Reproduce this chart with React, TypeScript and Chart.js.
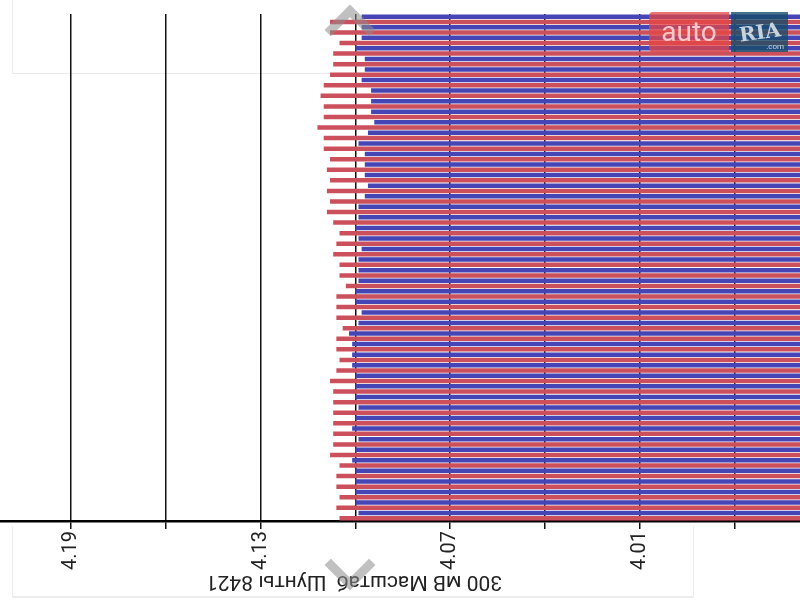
import React, { useEffect, useRef } from 'react';
import { Chart, registerables } from 'chart.js';

Chart.register(...registerables);

// Cell indices (categories), top to bottom
const cells = [
  '1', '2', '3', '4', '5', '6', '7', '8', '9', '10', '11', '12',
  '13', '14', '15', '16', '17', '18', '19', '20', '21', '22', '23', '24',
  '25', '26', '27', '28', '29', '30', '31', '32', '33', '34', '35', '36',
  '37', '38', '39', '40', '41', '42', '43', '44', '45', '46', '47', '48',
];

// Blue series (volts)
const blueValues = [
  4.098, 4.098, 4.098, 4.100, 4.097, 4.097, 4.098, 4.095, 4.095, 4.095, 4.094, 4.096,
  4.099, 4.097, 4.097, 4.097, 4.096, 4.097, 4.099, 4.099, 4.100, 4.099, 4.098, 4.099,
  4.099, 4.099, 4.100, 4.100, 4.098, 4.099, 4.102, 4.101, 4.101, 4.101, 4.100, 4.100,
  4.100, 4.099, 4.100, 4.101, 4.099, 4.100, 4.101, 4.100, 4.100, 4.100, 4.100, 4.099,
];

// Red series (volts)
const redValues = [
  4.108, 4.108, 4.105, 4.107, 4.107, 4.108, 4.110, 4.111, 4.110, 4.110, 4.112, 4.110,
  4.110, 4.108, 4.109, 4.108, 4.109, 4.108, 4.109, 4.107, 4.105, 4.106, 4.107, 4.105,
  4.105, 4.103, 4.106, 4.106, 4.106, 4.104, 4.106, 4.106, 4.105, 4.106, 4.108, 4.107,
  4.107, 4.107, 4.107, 4.107, 4.107, 4.108, 4.105, 4.106, 4.106, 4.105, 4.106, 4.105,
];

const tickValues = [4.19, 4.16, 4.13, 4.10, 4.07, 4.04, 4.01, 3.98];
const tickLabels = ['4.19', '', '4.13', '', '4.07', '', '4.01', ''];

const axisMin = 3.9592;
const axisMax = 4.2125;
const axisTitle = '300 мВ Масштаб  Шунты 8421';

const BLUE = '#4545b5';
const RED = '#cc4f5c';

const flippedTitlePlugin = {
  id: 'flippedTitle',
  afterDraw(chart: any) {
    const { ctx } = chart;
    ctx.save();
    ctx.font = '21px Roboto';
    ctx.fillStyle = '#222';
    ctx.textAlign = 'center';
    ctx.textBaseline = 'middle';
    ctx.translate(354, 581);
    ctx.rotate(Math.PI);
    ctx.fillText(axisTitle, 0, 0);
    ctx.restore();
  },
};

export default function App() {
  const canvasRef = useRef<HTMLCanvasElement | null>(null);

  useEffect(() => {
    if (!canvasRef.current) return;
    const chart = new Chart(canvasRef.current, {
      type: 'bar',
      data: {
        labels: cells,
        datasets: [
          { label: 'blue', data: blueValues, backgroundColor: BLUE, borderWidth: 0 },
          { label: 'red', data: redValues, backgroundColor: RED, borderWidth: 0 },
        ],
      },
      options: {
        indexAxis: 'y',
        animation: false,
        responsive: false,
        maintainAspectRatio: false,
        layout: { padding: { top: 14, left: 0, right: 0, bottom: 0 } },
        plugins: { legend: { display: false }, tooltip: { enabled: false } },
        datasets: { bar: { categoryPercentage: 1, barPercentage: 0.85 } },
        scales: {
          x: {
            type: 'linear',
            reverse: true,
            min: axisMin,
            max: axisMax,
            z: 1,
            afterBuildTicks: (s: any) => {
              s.ticks = tickValues.map((v) => ({ value: v }));
            },
            afterFit: (s: any) => {
              s.height = 79;
              s.paddingLeft = 0;
              s.paddingRight = 0;
            },
            grid: { color: '#111', lineWidth: 1.5, tickLength: 8 },
            border: { color: '#000', width: 2.5 },
            ticks: {
              autoSkip: false,
              minRotation: 90,
              maxRotation: 90,
              padding: 2,
              color: '#222',
              font: { family: 'Roboto', size: 20 },
              callback: (_v: any, i: number) => tickLabels[i],
            },
          },
          y: { display: false },
        },
      },
      plugins: [flippedTitlePlugin],
    } as any);
    return () => chart.destroy();
  }, []);

  return (
    <div style={{ position: 'fixed', left: 0, top: 0, width: 800, height: 600, background: '#fff', overflow: 'hidden' }}>
      <div style={{ position: 'absolute', left: 12, top: -1, width: 340, height: 74, borderLeft: '1px solid #ececec', borderBottom: '1px solid #ececec' }} />
      <div style={{ position: 'absolute', left: 12, top: 526, width: 680, height: 70, borderLeft: '1px solid #ececec', borderRight: '1px solid #ececec', borderBottom: '2px solid #ececec' }} />
      <canvas ref={canvasRef} width={800} height={600} style={{ position: 'absolute', left: 0, top: 0, display: 'block' }} />
      <div style={{ position: 'absolute', left: 332, top: 12, width: 36, height: 36, boxSizing: 'border-box', borderTop: '9px solid rgba(140,140,140,0.55)', borderLeft: '9px solid rgba(140,140,140,0.55)', transform: 'rotate(45deg)' }} />
      <div style={{ position: 'absolute', left: 332, top: 547, width: 36, height: 36, boxSizing: 'border-box', borderBottom: '9px solid rgba(140,140,140,0.55)', borderRight: '9px solid rgba(140,140,140,0.55)', transform: 'rotate(45deg)' }} />
      <div style={{ position: 'absolute', left: 649, top: 12, width: 80, height: 40, background: 'rgba(228,70,70,0.75)', borderRadius: '4px 0 0 4px', color: 'rgba(255,215,215,0.9)', fontFamily: 'Roboto', fontSize: 28, lineHeight: '40px', textAlign: 'center' }}>auto</div>
      <div style={{ position: 'absolute', left: 731, top: 12, width: 57, height: 40, background: 'rgba(20,75,105,0.78)', color: 'rgba(225,235,240,0.85)', fontFamily: 'DejaVu Serif', fontWeight: 'bold', fontSize: 20, lineHeight: '40px', textAlign: 'center', transform: 'none' }}>
        <span style={{ display: 'inline-block', transform: 'rotate(-8deg)' }}>RIA</span>
        <span style={{ position: 'absolute', right: 4, bottom: 1, fontSize: 8, lineHeight: '8px', fontWeight: 'normal', fontFamily: 'Roboto' }}>.com</span>
      </div>
    </div>
  );
}
